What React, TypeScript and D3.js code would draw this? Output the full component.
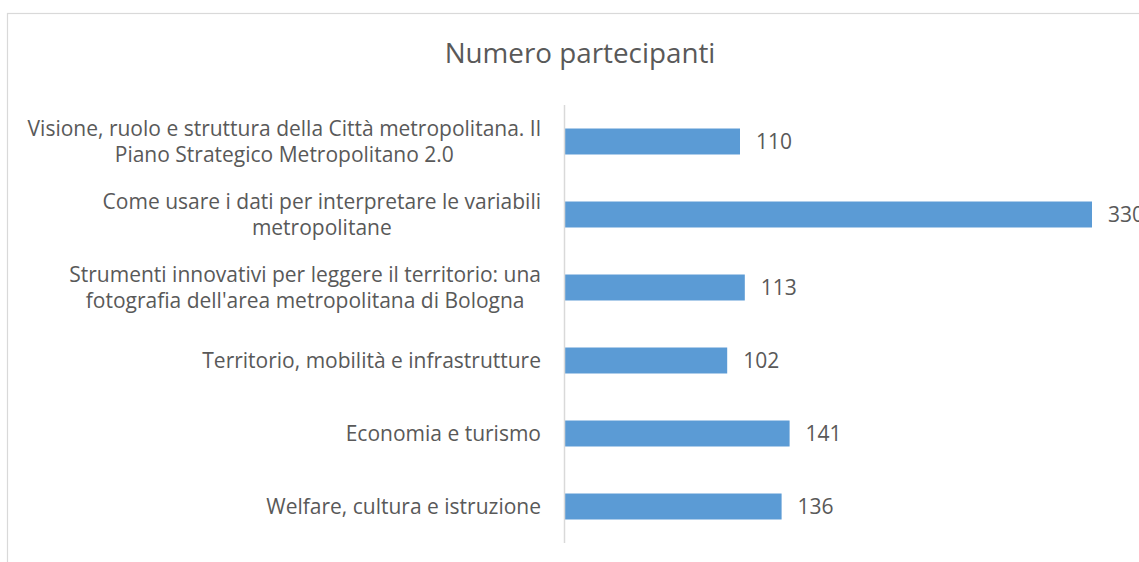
import React, { useRef, useEffect } from 'react';
import * as d3 from 'd3';

const categories = [
  'Visione, ruolo e struttura della Città metropolitana. Il\nPiano Strategico Metropolitano 2.0',
  'Come usare i dati per interpretare le variabili\nmetropolitane',
  "Strumenti innovativi per leggere il territorio: una\nfotografia dell'area metropolitana di Bologna",
  'Territorio, mobilità e infrastrutture',
  'Economia e turismo',
  'Welfare, cultura e istruzione',
];
const partecipanti = [110, 330, 113, 102, 141, 136];
const chartTitle = 'Numero partecipanti';

const W = 1139;
const H = 562;
const FONT = '"Open Sans", "Liberation Sans", sans-serif';
const TEXT = '#595959';

export default function App() {
  const ref = useRef<SVGSVGElement>(null);

  useEffect(() => {
    const svg = d3.select(ref.current);
    svg.selectAll('*').remove();

    // cornice del grafico (tagliata a destra e in basso)
    svg.append('rect')
      .attr('x', 7.5).attr('y', 13.5)
      .attr('width', W + 20).attr('height', H + 20)
      .attr('fill', '#fff')
      .attr('stroke', '#d9d9d9')
      .attr('stroke-width', 1.2);

    svg.append('text')
      .text(chartTitle)
      .attr('x', 580).attr('y', 63)
      .attr('text-anchor', 'middle')
      .attr('font-family', FONT)
      .attr('font-size', 27.8)
      .attr('fill', TEXT);

    const y = d3.scaleBand<number>()
      .domain(d3.range(categories.length))
      .range([105, 543])
      .paddingInner(0.644)
      .paddingOuter(0.322);
    const x = d3.scaleLinear().domain([0, 350]).range([564, 1124]);

    const g = svg.append('g');

    g.selectAll('rect.bar')
      .data(partecipanti)
      .join('rect')
      .attr('class', 'bar')
      .attr('x', x(0))
      .attr('y', (_d, i) => y(i)!)
      .attr('width', d => x(d) - x(0))
      .attr('height', y.bandwidth())
      .attr('fill', '#5b9bd5');

    // asse verticale
    g.append('line')
      .attr('x1', 564.5).attr('x2', 564.5)
      .attr('y1', y.range()[0]).attr('y2', y.range()[1])
      .attr('stroke', '#d9d9d9')
      .attr('stroke-width', 1.5);

    // valori
    g.selectAll('text.val')
      .data(partecipanti)
      .join('text')
      .attr('class', 'val')
      .text(d => d)
      .attr('x', d => x(d) + 16)
      .attr('y', (_d, i) => y(i)! + y.bandwidth() / 2 + 7.5)
      .attr('font-family', FONT)
      .attr('font-size', 21)
      .attr('fill', TEXT);

    // etichette categorie
    const labelRight = 541;
    const lineH = 26;
    const fs = 21;
    categories.forEach((c, i) => {
      const lines = c.split('\n');
      const cy = y(i)! + y.bandwidth() / 2;
      const t = g.append('text')
        .attr('font-family', FONT)
        .attr('font-size', fs)
        .attr('fill', TEXT)
        .attr('text-anchor', 'middle');
      const spans = lines.map((l, k) =>
        t.append('tspan')
          .text(l)
          .attr('y', cy - ((lines.length - 1) * lineH) / 2 + k * lineH + 7.3)
      );
      const maxW = d3.max(spans, s => (s.node() as SVGTSpanElement).getComputedTextLength()) || 0;
      spans.forEach(s => s.attr('x', labelRight - maxW / 2));
    });
  }, []);

  return (
    <svg ref={ref} width={W} height={H}
      style={{ position: 'absolute', left: 0, top: 0, background: '#fff' }} />
  );
}
